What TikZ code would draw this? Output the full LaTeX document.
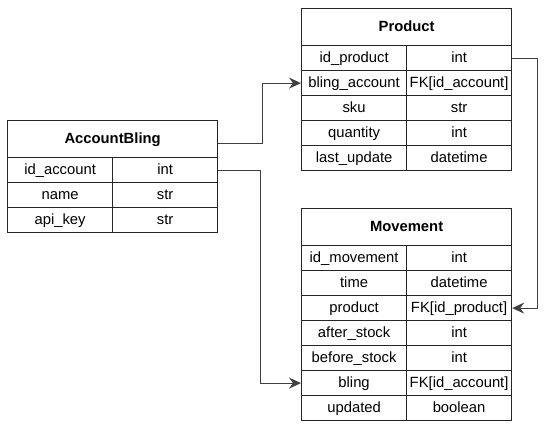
\documentclass[tikz,border=0pt]{standalone}
\usepackage{fontspec}
\setmainfont{Liberation Sans}
\usetikzlibrary{arrows.meta}
\begin{document}
\begin{tikzpicture}[x=1pt,y=-1pt,
  cell/.style={draw=black!85, line width=1.2pt, minimum width=105pt, minimum height=25pt, inner sep=0pt, text height=10.5pt, text depth=1pt, anchor=north west, font=\fontsize{14.8}{17}\selectfont},
  head/.style={cell, minimum width=210pt, minimum height=37pt, font=\fontsize{14.8}{17}\selectfont\bfseries},
  conn/.style={draw=black!75, line width=1.2pt, -{Stealth[length=12pt,width=11pt,inset=4pt]}}]
\useasboundingbox (0,0) rectangle (549,432);

% AccountBling
\node[head] (ab) at (7,120) {AccountBling};
\foreach \i/\a/\b in {1/id\_account/int, 2/name/str, 3/api\_key/str}{
  \node[cell] (a\i l) at (7,{157+25*(\i-1)}) {\a};
  \node[cell] (a\i r) at (112,{157+25*(\i-1)}) {\b};
}

% Product
\node[head] (pb) at (301,8) {Product};
\foreach \i/\a/\b in {1/id\_product/int, 2/bling\_account/{FK[id\_account]}, 3/sku/str, 4/quantity/int, 5/last\_update/datetime}{
  \node[cell] (p\i l) at (301,{45+25*(\i-1)}) {\a};
  \node[cell] (p\i r) at (406,{45+25*(\i-1)}) {\b};
}

% Movement
\node[head] (mb) at (301,208) {Movement};
\foreach \i/\a/\b in {1/id\_movement/int, 2/time/datetime, 3/product/{FK[id\_product]}, 4/after\_stock/int, 5/before\_stock/int, 6/bling/{FK[id\_account]}, 7/updated/boolean}{
  \node[cell] (m\i l) at (301,{245+25*(\i-1)}) {\a};
  \node[cell] (m\i r) at (406,{245+25*(\i-1)}) {\b};
}

% Connectors
\draw[conn] ([yshift=-4pt]ab.east) -- ++(44,0) |- (p2l.west);
\draw[conn] (a1r.east) -- ++(42,0) |- (m6l.west);
\draw[conn] (p1r.east) -- ++(25,0) |- (m3r.east);
\end{tikzpicture}
\end{document}
